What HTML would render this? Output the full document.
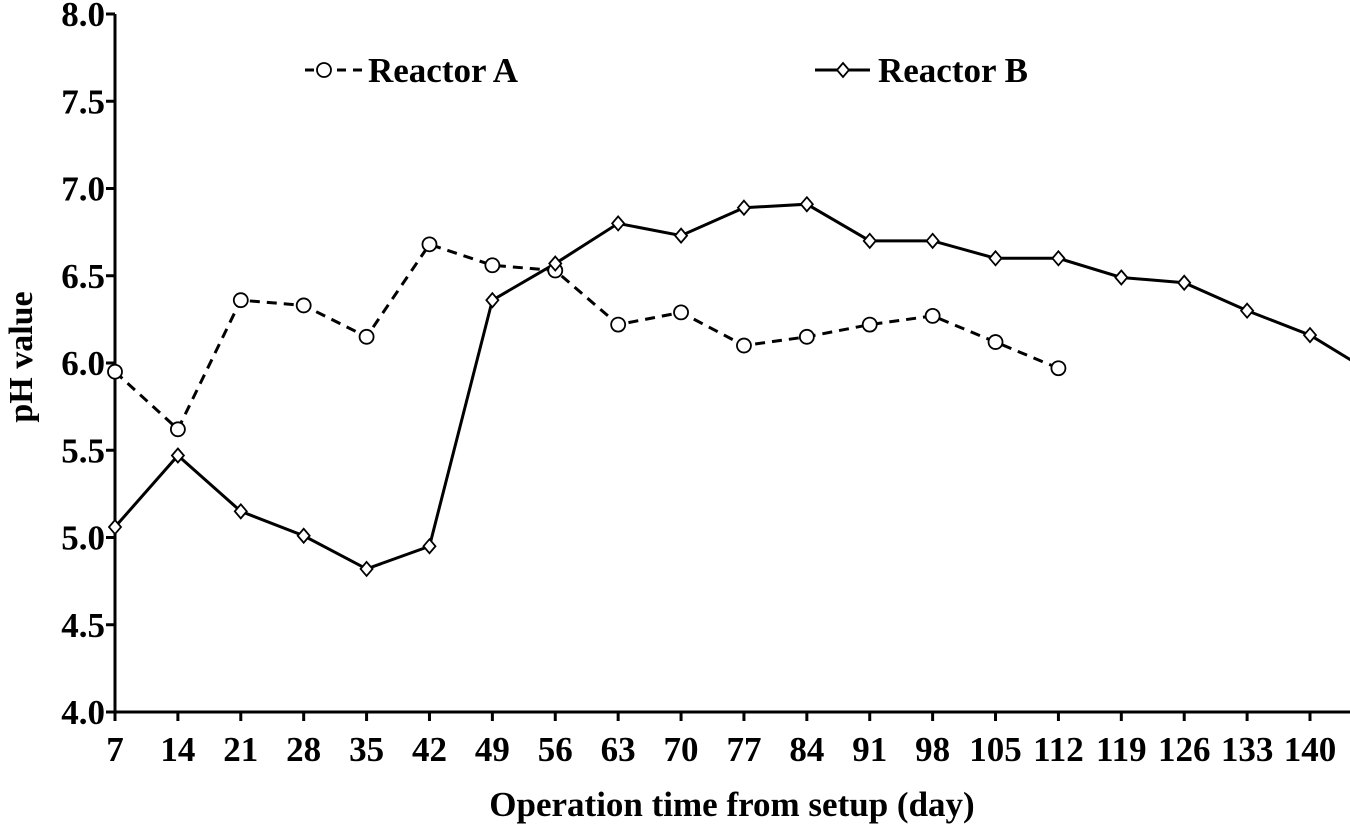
<!DOCTYPE html>
<html><head><meta charset="utf-8"><style>
html,body{margin:0;padding:0;background:#fff;}
svg text{font-family:"Liberation Serif",serif;font-weight:bold;fill:#000;}
</style></head><body>
<svg id="chart" width="1350" height="826" viewBox="0 0 1350 826" xmlns="http://www.w3.org/2000/svg">
<defs><clipPath id="plotclip"><rect x="100" y="0" width="1250" height="720"/></clipPath></defs>
<g id="axes"></g>
<g id="series" clip-path="url(#plotclip)"></g>
<g id="legend">
 <g>
  <line x1="305" y1="70" x2="362" y2="70" stroke="#000" stroke-width="3" stroke-dasharray="9,7"/>
  <circle cx="324" cy="70" r="7" fill="#fff" stroke="#000" stroke-width="1.8"/>
  <text x="368" y="82" font-size="35">Reactor A</text>
 </g>
 <g>
  <line x1="815" y1="70" x2="870" y2="70" stroke="#000" stroke-width="3"/>
  <path d="M843,63 L849,70 L843,77 L837,70 Z" fill="#fff" stroke="#000" stroke-width="1.8"/>
  <text x="878" y="82" font-size="35">Reactor B</text>
 </g>
</g>
<text transform="translate(32,357) rotate(-90)" text-anchor="middle" font-size="34">pH value</text>
<text x="732" y="816" text-anchor="middle" font-size="35">Operation time from setup (day)</text>
</svg>
<script>
const daysX = [7,14,21,28,35,42,49,56,63,70,77,84,91,98,105,112,119,126,133,140];
const yTicks = [4.0,4.5,5.0,5.5,6.0,6.5,7.0,7.5,8.0];
const daysA = [7,14,21,28,35,42,49,56,63,70,77,84,91,98,105,112];
const phA = [5.95,5.62,6.36,6.33,6.15,6.68,6.56,6.53,6.22,6.29,6.10,6.15,6.22,6.27,6.12,5.97];
const daysB = [7,14,21,28,35,42,49,56,63,70,77,84,91,98,105,112,119,126,133,140,147];
const phB = [5.06,5.47,5.15,5.01,4.82,4.95,6.36,6.57,6.80,6.73,6.89,6.91,6.70,6.70,6.60,6.60,6.49,6.46,6.30,6.16,5.94];

const NS="http://www.w3.org/2000/svg";
const X0=115, XR=1350, Y0=712, YT=14;
function xs(d){return 115 + (d-7)*(1310-115)/133;}
function ys(v){return Y0 - (v-4)*(Y0-YT)/4;}
function mk(tag, attrs, parent){const e=document.createElementNS(NS,tag);for(const k in attrs)e.setAttribute(k,attrs[k]);parent.appendChild(e);return e;}

const axes=document.getElementById('axes');
const ya=mk('line',{x1:X0,y1:YT,x2:X0,y2:Y0,stroke:'#000','stroke-width':3},axes);


const xa=mk('line',{x1:X0-1,y1:Y0,x2:XR,y2:Y0,stroke:'#000','stroke-width':3},axes);


yTicks.forEach(v=>{
  const y=ys(v);
  const t=mk('line',{x1:X0-9,y1:y,x2:X0,y2:y,stroke:'#000','stroke-width':3},axes);
  
  
  const l=mk('text',{x:X0-10,y:y+12,'text-anchor':'end','font-size':35},axes);
  l.textContent=v.toFixed(1);
  
  
});
daysX.forEach(d=>{
  const x=xs(d);
  const t=mk('line',{x1:x,y1:Y0,x2:x,y2:Y0+9,stroke:'#000','stroke-width':3},axes);
  
  
  const l=mk('text',{x:x,y:Y0+49,'text-anchor':'middle','font-size':35},axes);
  l.textContent=d;
  
  
});

const ser=document.getElementById('series');
const pa=mk('polyline',{points:daysA.map((d,i)=>xs(d)+','+ys(phA[i])).join(' '),fill:'none',stroke:'#000','stroke-width':3,'stroke-dasharray':'10,7'},ser);


const pb=mk('polyline',{points:daysB.map((d,i)=>xs(d)+','+ys(phB[i])).join(' '),fill:'none',stroke:'#000','stroke-width':3},ser);


daysA.forEach((d,i)=>{
  const c=mk('circle',{cx:xs(d),cy:ys(phA[i]),r:7,fill:'#fff',stroke:'#000','stroke-width':1.8},ser);
  
  
});
daysB.forEach((d,i)=>{
  const x=xs(d),y=ys(phB[i]);
  const p=mk('path',{d:`M${x},${y-7} L${x+6},${y} L${x},${y+7} L${x-6},${y} Z`,fill:'#fff',stroke:'#000','stroke-width':1.8},ser);
  
  
});
</script>
</body></html>
